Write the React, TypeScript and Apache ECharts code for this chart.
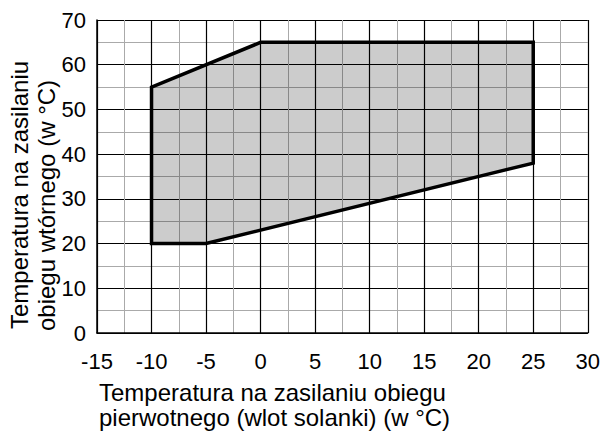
import React, { useEffect, useRef } from "react";
import * as echarts from "echarts";

const xMin = -15;
const xMax = 30;
const xStep = 5;
const yMin = 0;
const yMax = 70;
const yStep = 10;

// Operating envelope polygon (x = primary inlet °C, y = secondary supply °C)
const polyX = [-10, -10, 0, 25, 25, -5];
const polyY = [20, 55, 65, 65, 38, 20];

const xTitleLines = ["Temperatura na zasilaniu obiegu", "pierwotnego (wlot solanki) (w °C)"];
const yTitleLines = ["Temperatura na zasilaniu", "obiegu wtórnego (w °C)"];

const FONT = "'Liberation Sans', Arial, Helvetica, sans-serif";

export default function App() {
  const ref = useRef<HTMLDivElement>(null);
  useEffect(() => {
    if (!ref.current) return;
    const chart = echarts.init(ref.current, undefined, { renderer: "svg" });
    const axisCommon = {
      type: "value" as const,
      axisLine: { show: true, onZero: false, lineStyle: { color: "#000", width: 1.5 } },
      axisTick: { show: false },
      splitLine: { show: true, lineStyle: { color: "#000", width: 1.2 } },
      minorTick: { show: false, splitNumber: 2 },
      minorSplitLine: { show: true, lineStyle: { color: "#aaaaaa", width: 1 } },
      axisLabel: { color: "#000", fontSize: 22, fontFamily: FONT },
    };
    chart.setOption({
      animation: false,
      backgroundColor: "#fff",
      grid: { left: 97, top: 20, right: 15, bottom: 102, containLabel: false },
      xAxis: {
        ...axisCommon,
        min: xMin,
        max: xMax,
        interval: xStep,
        axisLabel: { ...axisCommon.axisLabel, margin: 17 },
      },
      yAxis: {
        ...axisCommon,
        min: yMin,
        max: yMax,
        interval: yStep,
        axisLabel: { ...axisCommon.axisLabel, margin: 11 },
      },
      series: [
        {
          type: "custom",
          data: [[0, 0]],
          clip: false,
          renderItem: (_params: any, api: any) => ({
            type: "polygon",
            shape: { points: polyX.map((x, i) => api.coord([x, polyY[i]])) },
            style: {
              fill: "rgba(0,0,0,0.2)",
              stroke: "#000",
              lineWidth: 3.5,
              lineJoin: "miter",
            },
          }),
        },
      ],
      graphic: [
        {
          type: "text",
          x: 99,
          y: 380,
          style: {
            text: xTitleLines.join("\n"),
            fontSize: 24,
            lineHeight: 25,
            fontFamily: FONT,
            fill: "#000",
            align: "left",
            verticalAlign: "top",
          },
        },
        {
          type: "text",
          x: 19.5,
          y: 329,
          rotation: Math.PI / 2,
          style: {
            text: yTitleLines[0],
            fontSize: 24,
            fontFamily: FONT,
            fill: "#000",
            align: "left",
            verticalAlign: "middle",
          },
        },
        {
          type: "text",
          x: 46,
          y: 331,
          rotation: Math.PI / 2,
          style: {
            text: yTitleLines[1],
            fontSize: 24,
            fontFamily: FONT,
            fill: "#000",
            align: "left",
            verticalAlign: "middle",
          },
        },
      ],
    });
    return () => chart.dispose();
  }, []);
  return <div ref={ref} style={{ width: 603, height: 435, position: "absolute", left: 0, top: 0 }} />;
}
